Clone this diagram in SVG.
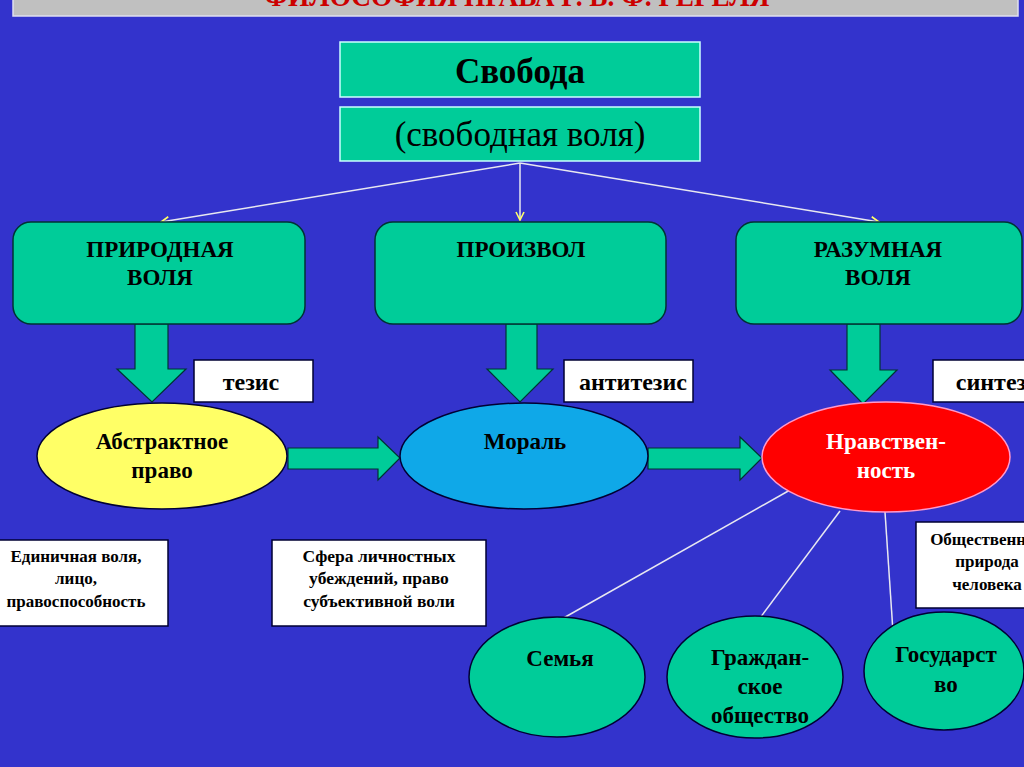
<svg xmlns="http://www.w3.org/2000/svg" width="1024" height="767" viewBox="0 0 1024 767">
<defs>
<style>
.t{font-family:"Liberation Serif","Times New Roman",serif;font-weight:bold;fill:#000;text-anchor:middle}
.teal{fill:#00CC99}
.rbox{fill:#00CC99;stroke:#003333;stroke-width:1.5}
.wbox{fill:#FFFFFF;stroke:#000033;stroke-width:1.5}
.blk{fill:#00CC99;stroke:#003333;stroke-width:1.2}
.ell{stroke:#000033;stroke-width:1.5}
.con{stroke:#E8E8F0;stroke-width:1.5;fill:none}
</style>
<marker id="ah" viewBox="0 0 10 10" refX="9" refY="5" markerWidth="10" markerHeight="10" orient="auto" markerUnits="userSpaceOnUse">
<path d="M1,1 L9,5 L1,9" fill="none" stroke="#FFFF66" stroke-width="1.6"/>
</marker>
<clipPath id="bar"><rect x="13" y="0" width="1005" height="16"/></clipPath>
</defs>
<rect x="0" y="0" width="1024" height="767" fill="#3333CC"/>
<g id="title">
<rect x="13" y="-2" width="1005" height="18" fill="#C0C0C0" stroke="#E0E0F0" stroke-width="1.5"/>
<text x="517" y="6" class="t" font-size="30" textLength="505" lengthAdjust="spacingAndGlyphs" style="fill:#CC0000" clip-path="url(#bar)">ФИЛОСОФИЯ ПРАВА Г. В. Ф. ГЕГЕЛЯ</text>
</g>
<g id="connectors">
<line class="con" x1="520" y1="163" x2="161" y2="222" marker-end="url(#ah)"/>
<line class="con" x1="520" y1="163" x2="520" y2="220" marker-end="url(#ah)"/>
<line class="con" x1="520" y1="163" x2="879" y2="222" marker-end="url(#ah)"/>
<polygon class="blk" points="135,324 168,324 168,369 186,369 152,402 117,369 135,369"/>
<polygon class="blk" points="506,324 537,324 537,369 553,369 520,402 487,369 506,369"/>
<polygon class="blk" points="847,324 880,324 880,370 897,370 863,404 830,370 847,370"/>
<polygon class="blk" points="288,448 378,448 378,437 400,458 378,480 378,469 288,469"/>
<polygon class="blk" points="648,448 740,448 740,437 762,458 740,480 740,469 648,469"/>
<line class="con" x1="790" y1="490" x2="560" y2="620"/>
<line class="con" x1="840" y1="511" x2="760" y2="618"/>
<line class="con" x1="885" y1="512" x2="893" y2="632"/>
</g>
<g id="svoboda">
<rect x="340" y="42" width="360" height="55" class="teal" stroke="#CCFFFF" stroke-width="1.5"/>
<text x="520" y="83" class="t" font-size="35">Свобода</text>
</g>
<g id="svobodnaya">
<rect x="340" y="107" width="360" height="54" class="teal" stroke="#CCFFFF" stroke-width="1.5"/>
<text x="520" y="146" class="t" font-size="35" style="font-weight:normal">(свободная воля)</text>
</g>
<g id="prirodnaya">
<rect x="13" y="222" width="292" height="102" rx="18" class="rbox"/>
<text x="160" y="257" class="t" font-size="23">ПРИРОДНАЯ</text>
<text x="160" y="285" class="t" font-size="23">ВОЛЯ</text>
</g>
<g id="proizvol">
<rect x="375" y="222" width="291" height="102" rx="18" class="rbox"/>
<text x="521" y="257" class="t" font-size="23">ПРОИЗВОЛ</text>
</g>
<g id="razumnaya">
<rect x="736" y="222" width="286" height="102" rx="18" class="rbox"/>
<text x="878" y="257" class="t" font-size="23">РАЗУМНАЯ</text>
<text x="878" y="285" class="t" font-size="23">ВОЛЯ</text>
</g>
<g id="tezis">
<rect x="194" y="360" width="119" height="42" class="wbox"/>
<text x="251" y="390" class="t" font-size="24">тезис</text>
</g>
<g id="antitezis">
<rect x="564" y="360" width="129" height="42" class="wbox"/>
<text x="633" y="390" class="t" font-size="24">антитезис</text>
</g>
<g id="sintez">
<rect x="933" y="360" width="100" height="42" class="wbox"/>
<text x="991" y="390" class="t" font-size="24">синтез</text>
</g>
<g id="abstraktnoe">
<ellipse cx="162" cy="456" rx="125" ry="53" fill="#FFFF66" class="ell"/>
<text x="162" y="449" class="t" font-size="23">Абстрактное</text>
<text x="162" y="478" class="t" font-size="23">право</text>
</g>
<g id="moral">
<ellipse cx="524" cy="456" rx="124" ry="53" fill="#0FA8E8" class="ell"/>
<text x="525" y="449" class="t" font-size="23">Мораль</text>
</g>
<g id="nravstvennost">
<ellipse cx="886" cy="457" rx="124" ry="55" fill="#FF0000" stroke="#FF99CC" stroke-width="1.5"/>
<text x="886" y="449" class="t" font-size="23" style="fill:#FFFFFF">Нравствен-</text>
<text x="886" y="478" class="t" font-size="23" style="fill:#FFFFFF">ность</text>
</g>
<g id="edinichnaya">
<rect x="-2" y="540" width="170" height="86" class="wbox"/>
<text x="76" y="562" class="t" font-size="17">Единичная воля,</text>
<text x="76" y="584" class="t" font-size="17">лицо,</text>
<text x="76" y="607" class="t" font-size="17">правоспособность</text>
</g>
<g id="sfera">
<rect x="272" y="540" width="214" height="86" class="wbox"/>
<text x="379" y="562" class="t" font-size="17.5">Сфера личностных</text>
<text x="379" y="584" class="t" font-size="17.5">убеждений, право</text>
<text x="379" y="607" class="t" font-size="17.5">субъективной воли</text>
</g>
<g id="obshchestvennaya">
<rect x="916" y="522" width="120" height="86" class="wbox"/>
<text x="987" y="545" class="t" font-size="17">Общественная</text>
<text x="987" y="567" class="t" font-size="17">природа</text>
<text x="987" y="590" class="t" font-size="17">человека</text>
</g>
<g id="semya">
<ellipse cx="557" cy="677" rx="88" ry="60" class="teal ell"/>
<text x="560" y="666" class="t" font-size="23">Семья</text>
</g>
<g id="grazhdanskoe">
<ellipse cx="755" cy="677" rx="88" ry="61" class="teal ell"/>
<text x="760" y="665" class="t" font-size="23">Граждан-</text>
<text x="760" y="694" class="t" font-size="23">ское</text>
<text x="760" y="723" class="t" font-size="23">общество</text>
</g>
<g id="gosudarstvo">
<ellipse cx="944" cy="671" rx="80" ry="59" class="teal ell"/>
<text x="946" y="662" class="t" font-size="23">Государст</text>
<text x="946" y="692" class="t" font-size="23">во</text>
</g>
</svg>
